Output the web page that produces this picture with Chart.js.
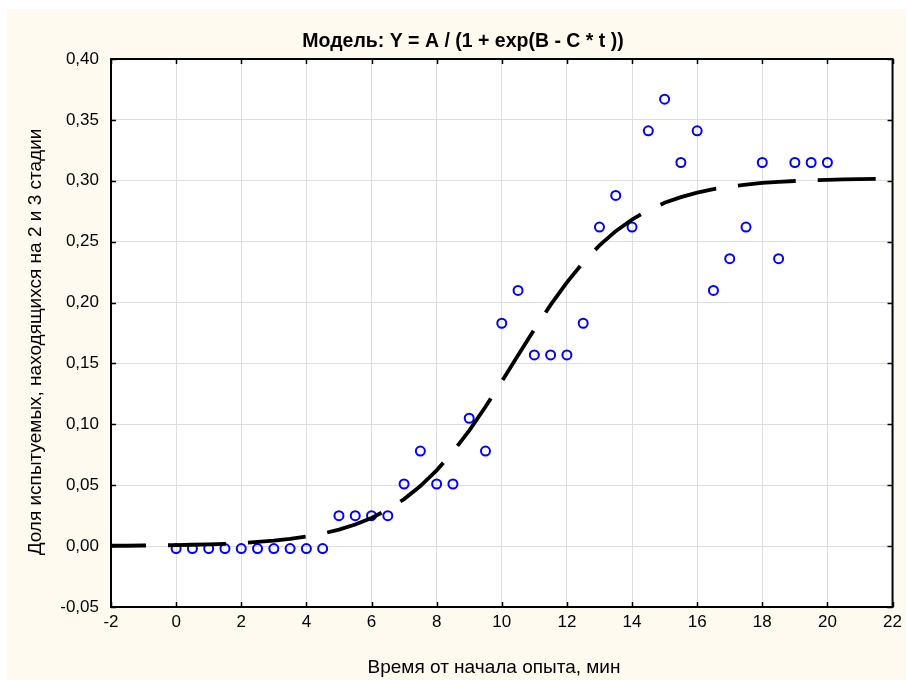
<!DOCTYPE html>
<html>
<head>
<meta charset="utf-8">
<script src="https://cdn.jsdelivr.net/npm/chart.js@4/dist/chart.umd.min.js"></script>
<style>
  body { margin: 0; background: #ffffff; }
  #chart { display: block; }
</style>
</head>
<body>
<canvas id="chart" width="907" height="680"></canvas>
<script>
//
// data

// observation times, min
var timeMin = [0, 0.5, 1, 1.5, 2, 2.5, 3, 3.5, 4, 4.5,
               5, 5.5, 6, 6.5, 7, 7.5, 8, 8.5, 9, 9.5,
               10, 10.5, 11, 11.5, 12, 12.5, 13, 13.5, 14, 14.5,
               15, 15.5, 16, 16.5, 17, 17.5, 18, 18.5, 19, 19.5, 20];

// share of subjects at stage 2 and 3
var shareObs = [-0.002, -0.002, -0.002, -0.002, -0.002, -0.002, -0.002, -0.002, -0.002, -0.002,
                0.025, 0.025, 0.025, 0.025, 0.051, 0.078, 0.051, 0.051, 0.105, 0.078,
                0.183, 0.210, 0.157, 0.157, 0.157, 0.183, 0.262, 0.288, 0.262, 0.341,
                0.367, 0.315, 0.341, 0.210, 0.236, 0.262, 0.315, 0.236, 0.315, 0.315, 0.315];

// fitted curve
var fitT = [-2, -1.5, -1, -0.5, 0, 0.5, 1, 1.5, 2, 2.5, 3, 3.5, 4, 4.5, 5, 5.5,
            6, 6.5, 7, 7.5, 8, 8.5, 9, 9.5, 10, 10.5, 11, 11.5, 12, 12.5, 13, 13.5,
            14, 14.5, 15, 15.5, 16, 16.5, 17, 17.5, 18, 18.5, 19, 19.5, 20, 20.5, 21, 21.5, 22];
var fitY = [0.0003, 0.0003, 0.0005, 0.0006, 0.0008, 0.0011, 0.0014, 0.0019, 0.0025, 0.0034,
            0.0045, 0.0059, 0.0078, 0.0103, 0.0135, 0.0177, 0.0231, 0.0300, 0.0386, 0.0493,
            0.0622, 0.0774, 0.0949, 0.1144, 0.1352, 0.1567, 0.1779, 0.1981, 0.2166, 0.2329,
            0.2469, 0.2586, 0.2682, 0.2758, 0.2819, 0.2866, 0.2903, 0.2931, 0.2953, 0.2969,
            0.2982, 0.2991, 0.2998, 0.3004, 0.3008, 0.3011, 0.3013, 0.3015, 0.3016];

var xTicks = [-2, 22, 2];        // min, max, step
var yTicks = [-0.05, 0.40, 0.05];

var chartTitle = 'Модель: Y = A / (1 + exp(B - C * t ))';
var xTitle = 'Время от начала опыта, мин';
var yTitle = 'Доля испытуемых, находящихся на 2 и 3 стадии';

var FONT = '"Liberation Sans", Arial, sans-serif';

//=========================================================================================================

function toPoints(xs, ys) {
  var pts = [];
  for (var i = 0; i < xs.length; i++) {
    pts.push({x: xs[i], y: ys[i]});
  }
  return pts;
}

function commaFmt(v) {
  if (Math.abs(v) < 1e-9) v = 0;
  return v.toFixed(2).replace('.', ',');
}

// cream panel + white plot area
var backdrop = {
  id: 'backdrop',
  beforeDraw: function(chart) {
    var c = chart.ctx, a = chart.chartArea;
    c.save();
    c.fillStyle = '#ffffff';
    c.fillRect(0, 0, chart.width, chart.height);
    c.fillStyle = '#fffaf0';
    c.fillRect(7, 9, chart.width - 8, chart.height - 9);
    c.fillStyle = '#ffffff';
    c.fillRect(a.left, a.top, a.right - a.left, a.bottom - a.top);
    c.restore();
  }
};

// black frame with inward tick marks on all four sides, titles on top
var frame = {
  id: 'frame',
  beforeDatasetsDraw: function(chart) {
    var c = chart.ctx, a = chart.chartArea;
    var xs = chart.scales.x, ys = chart.scales.y;
    c.save();
    c.strokeStyle = '#000';
    c.lineWidth = 1.5;
    c.beginPath();
    xs.ticks.forEach(function(t) {
      var px = Math.round(xs.getPixelForValue(t.value)) + 0.5;
      c.moveTo(px, a.top); c.lineTo(px, a.top + 5);
      c.moveTo(px, a.bottom); c.lineTo(px, a.bottom - 5);
    });
    ys.ticks.forEach(function(t) {
      var py = Math.round(ys.getPixelForValue(t.value)) + 0.5;
      c.moveTo(a.left, py); c.lineTo(a.left + 5, py);
      c.moveTo(a.right, py); c.lineTo(a.right - 5, py);
    });
    c.stroke();
    c.lineWidth = 2;
    c.strokeRect(a.left, a.top, a.right - a.left, a.bottom - a.top);
    c.restore();
  },
  afterDraw: function(chart) {
    var c = chart.ctx;
    c.save();
    c.fillStyle = '#000';
    c.textAlign = 'center';
    c.textBaseline = 'alphabetic';
    c.font = 'bold 19.5px ' + FONT;
    c.fillText(chartTitle, 463, 47);
    c.font = '19px ' + FONT;
    c.fillText(xTitle, 494, 673);
    c.translate(36, 342);
    c.rotate(-Math.PI / 2);
    c.textBaseline = 'middle';
    c.fillText(yTitle, 0, 0);
    c.restore();
  }
};

var ctx = document.getElementById('chart').getContext('2d');
var myChart = new Chart(ctx, {
  type: 'scatter',
  data: {
    datasets: [
      {
        label: 'fit',
        type: 'line',
        data: toPoints(fitT, fitY),
        borderColor: '#000000',
        borderWidth: 3.8,
        borderDash: [58, 22],
        borderDashOffset: 23,
        pointRadius: 0,
        fill: false,
        tension: 0,
        order: 0
      },
      {
        label: 'obs',
        data: toPoints(timeMin, shareObs),
        showLine: false,
        pointStyle: 'circle',
        pointRadius: 4.5,
        pointBorderWidth: 2,
        borderColor: '#0000ff',
        backgroundColor: 'rgba(0,0,0,0)',
        order: 1
      }
    ]
  },
  options: {
    responsive: false,
    animation: false,
    layout: { padding: { left: 0, top: 59, right: 14, bottom: 0 } },
    plugins: {
      legend: { display: false },
      tooltip: { enabled: false },
      title: { display: false }
    },
    scales: {
      x: {
        type: 'linear',
        min: xTicks[0],
        max: xTicks[1],
        afterFit: function(s) { s.height = 73; },
        ticks: {
          stepSize: xTicks[2],
          padding: 5,
          color: '#000',
          font: { family: FONT, size: 17 }
        },
        grid: { color: '#dedede', lineWidth: 1, drawTicks: false },
        border: { display: false }
      },
      y: {
        type: 'linear',
        min: yTicks[0],
        max: yTicks[1],
        afterFit: function(s) { s.width = 111; },
        ticks: {
          stepSize: yTicks[2],
          padding: 12,
          color: '#000',
          font: { family: FONT, size: 17 },
          callback: function(v) { return commaFmt(v); }
        },
        grid: { color: '#dedede', lineWidth: 1, drawTicks: false },
        border: { display: false }
      }
    }
  },
  plugins: [backdrop, frame]
});
</script>
</body>
</html>
